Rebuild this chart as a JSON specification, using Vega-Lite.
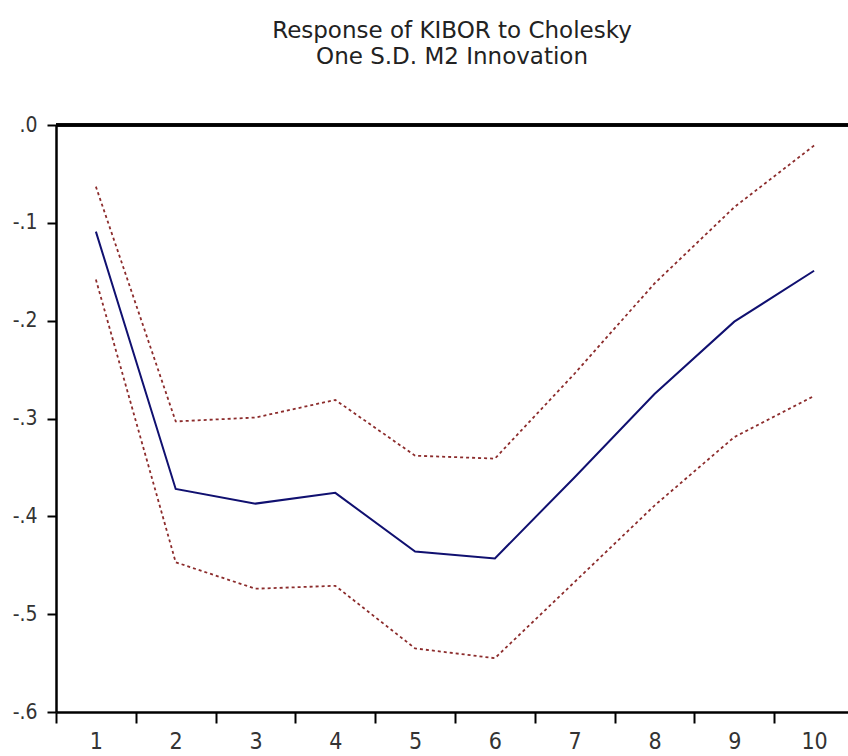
{
  "$schema": "https://vega.github.io/schema/vega-lite/v6.json",
  "autosize": "none",
  "padding": {"left": 56, "top": 125, "right": 0, "bottom": 44},
  "width": 792,
  "height": 587,
  "background": "white",
  "title": {
    "text": ["Response of KIBOR to Cholesky", "One S.D. M2 Innovation"],
    "font": "DejaVu Sans",
    "fontSize": 23,
    "fontWeight": "normal",
    "color": "#222222",
    "anchor": "middle",
    "lineHeight": 26,
    "offset": 45
  },
  "data": {
    "values": [
      {"step": 1, "response": -0.109, "upper": -0.063, "lower": -0.158},
      {"step": 2, "response": -0.372, "upper": -0.303, "lower": -0.447},
      {"step": 3, "response": -0.387, "upper": -0.299, "lower": -0.474},
      {"step": 4, "response": -0.376, "upper": -0.281, "lower": -0.471},
      {"step": 5, "response": -0.436, "upper": -0.338, "lower": -0.535},
      {"step": 6, "response": -0.443, "upper": -0.341, "lower": -0.545},
      {"step": 7, "response": -0.360, "upper": -0.254, "lower": -0.467},
      {"step": 8, "response": -0.275, "upper": -0.162, "lower": -0.389},
      {"step": 9, "response": -0.201, "upper": -0.084, "lower": -0.319},
      {"step": 10, "response": -0.149, "upper": -0.021, "lower": -0.277}
    ]
  },
  "encoding": {
    "x": {
      "field": "step",
      "type": "quantitative",
      "scale": {"domain": [0.5, 10.425], "nice": false, "zero": false},
      "axis": {
        "title": null,
        "values": [0.5, 1, 1.5, 2, 2.5, 3, 3.5, 4, 4.5, 5, 5.5, 6, 6.5, 7, 7.5, 8, 8.5, 9, 9.5, 10],
        "labelExpr": "datum.value % 1 === 0 ? format(datum.value, 'd') : ''",
        "tickOpacity": {"condition": {"test": "datum.value % 1 === 0", "value": 0}, "value": 1},
        "grid": false,
        "domainColor": "black",
        "domainWidth": 2.5,
        "tickColor": "black",
        "tickWidth": 2,
        "tickSize": 11,
        "labelFont": "DejaVu Sans Condensed, Liberation Sans",
        "labelFontSize": 23,
        "labelColor": "#333333",
        "labelPadding": 7,
        "labelOverlap": false,
        "labelFlush": false
      }
    }
  },
  "layer": [
    {
      "mark": {"type": "rule", "color": "black", "strokeWidth": 2.5},
      "encoding": {
        "x": {"datum": 0.5, "type": "quantitative"},
        "x2": {"datum": 10.425},
        "y": {"datum": 0, "type": "quantitative"}
      }
    },
    {
      "mark": {"type": "line", "color": "#8c2c2c", "strokeWidth": 1.8, "strokeDash": [3, 3]},
      "encoding": {
        "y": {
          "field": "upper",
          "type": "quantitative",
          "scale": {"domain": [-0.6, 0], "nice": false},
          "axis": {
            "title": null,
            "values": [-0.6, -0.5, -0.4, -0.3, -0.2, -0.1, 0],
            "labelExpr": "datum.value === 0 ? '.0' : '-.' + round(-datum.value * 10)",
            "grid": false,
            "domainColor": "black",
            "domainWidth": 2.5,
            "tickColor": "black",
            "tickWidth": 2,
            "tickSize": 9,
            "labelFont": "DejaVu Sans Condensed, Liberation Sans",
            "labelFontSize": 21,
            "labelColor": "#333333",
            "labelPadding": 10,
            "labelOverlap": false,
            "labelFlush": false
          }
        }
      }
    },
    {
      "mark": {"type": "line", "color": "#8c2c2c", "strokeWidth": 1.8, "strokeDash": [3, 3]},
      "encoding": {"y": {"field": "lower", "type": "quantitative"}}
    },
    {
      "mark": {"type": "line", "color": "#101070", "strokeWidth": 2},
      "encoding": {"y": {"field": "response", "type": "quantitative"}}
    }
  ],
  "config": {
    "view": {"stroke": null}
  }
}
